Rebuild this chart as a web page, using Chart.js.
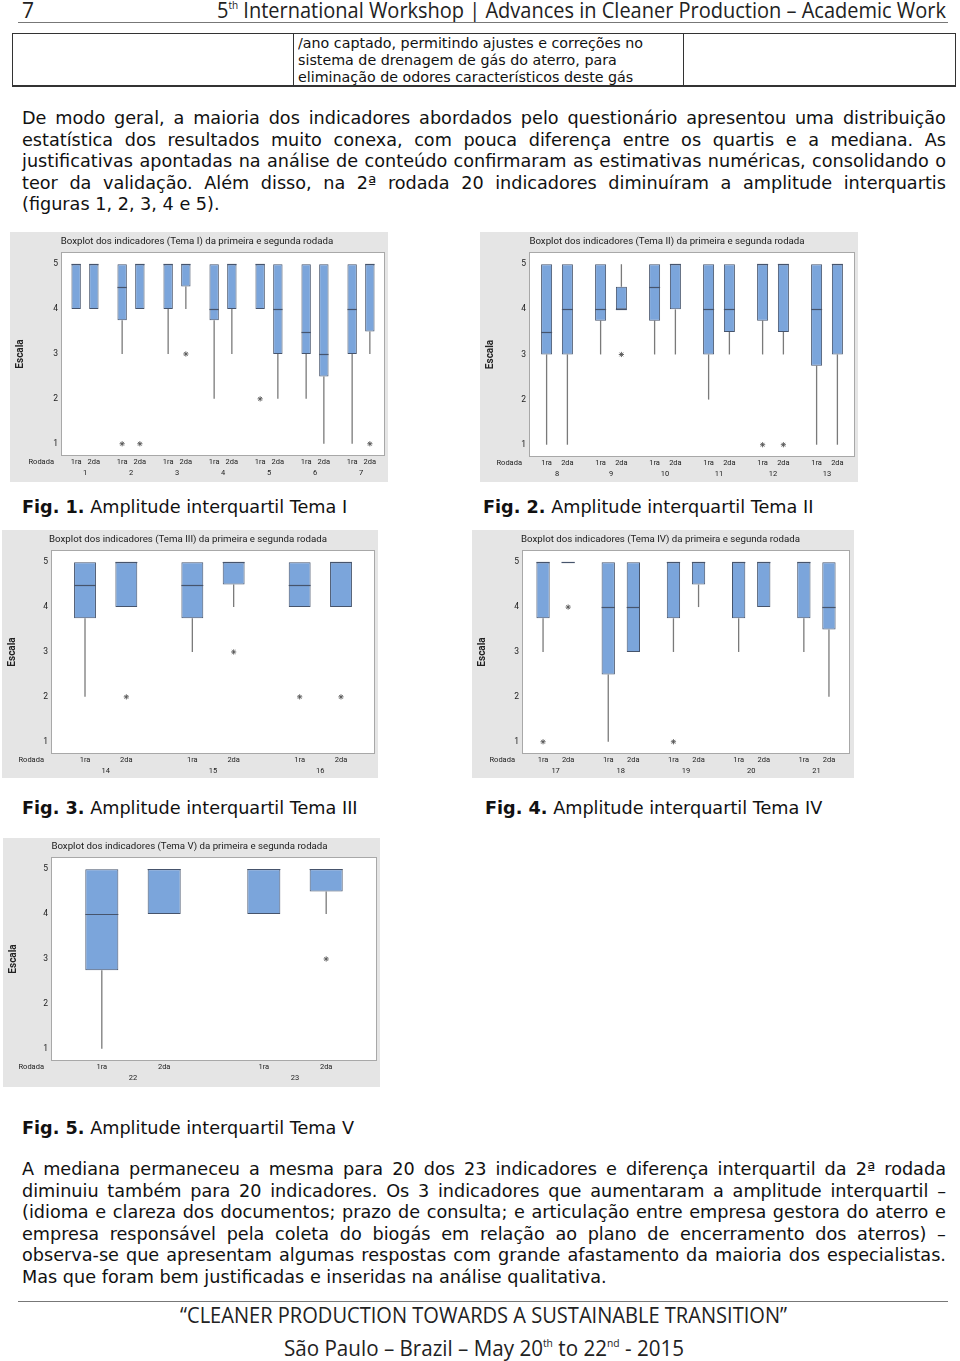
<!DOCTYPE html>
<html><head><meta charset="utf-8">
<script src="https://cdn.jsdelivr.net/npm/chart.js@4.4.1/dist/chart.umd.min.js"></script>
<style>
html,body{margin:0;padding:0;background:#fff;}
body{width:960px;height:1361px;position:relative;overflow:hidden;font-family:'DejaVu Sans',Verdana,sans-serif;color:#111;}
.hdr{position:absolute;font-family:'Open Sans',sans-serif;font-size:21px;line-height:21px;white-space:nowrap;transform-origin:left top;color:#222;}
.sup{font-size:0.5em;position:relative;top:-0.9em;}
.jl{position:absolute;left:22px;width:924px;display:flex;justify-content:space-between;white-space:nowrap;font-size:17px;height:21.5px;line-height:21.5px;}
.pl{position:absolute;white-space:nowrap;font-size:17px;line-height:21.5px;}
.tl{position:absolute;left:298px;font-family:'DejaVu Sans Condensed','DejaVu Sans',sans-serif;font-size:14px;line-height:17px;white-space:nowrap;transform-origin:left top;}
.rule{position:absolute;background:#333;}
canvas{position:absolute;}
</style></head>
<body>
<div class="hdr" id="h7" style="left:22px;top:0">7</div>
<div class="hdr" id="htitle" style="top:0">5<span class="sup">th</span> International Workshop | Advances in Cleaner Production – Academic Work</div>
<div class="rule" style="left:18px;top:22px;width:930px;height:1px;background:#777"></div>

<div class="rule" style="left:12px;top:33px;width:944px;height:1px"></div>
<div class="rule" style="left:12px;top:85px;width:944px;height:2px"></div>
<div class="rule" style="left:12px;top:33px;width:1px;height:53px"></div>
<div class="rule" style="left:293px;top:33px;width:1px;height:53px"></div>
<div class="rule" style="left:683px;top:33px;width:1px;height:53px"></div>
<div class="rule" style="left:955px;top:33px;width:1px;height:53px"></div>

<canvas id="c1" width="378" height="250" style="left:10px;top:232px"></canvas>
<canvas id="c2" width="378" height="250" style="left:480px;top:232px"></canvas>
<canvas id="c3" width="376" height="248" style="left:2px;top:530px"></canvas>
<canvas id="c4" width="382" height="248" style="left:472px;top:530px"></canvas>
<canvas id="c5" width="377" height="249" style="left:3px;top:838px"></canvas>

<div class="pl cap" style="left:22px;top:496.5px"><b>Fig. 1.</b> Amplitude interquartil Tema I</div>
<div class="pl cap" style="left:483px;top:496.5px"><b>Fig. 2.</b> Amplitude interquartil Tema II</div>
<div class="pl cap" style="left:22px;top:797.5px"><b>Fig. 3.</b> Amplitude interquartil Tema III</div>
<div class="pl cap" style="left:485px;top:797.5px"><b>Fig. 4.</b> Amplitude interquartil Tema IV</div>
<div class="pl cap" style="left:22px;top:1117.5px"><b>Fig. 5.</b> Amplitude interquartil Tema V</div>

<div class="rule" style="left:18px;top:1301px;width:930px;height:1px;background:#777"></div>
<div class="hdr" id="f1" style="top:1305px">“CLEANER PRODUCTION TOWARDS A SUSTAINABLE TRANSITION”</div>
<div class="hdr" id="f2" style="top:1338px">São Paulo – Brazil – May 20<span class="sup">th</span> to 22<span class="sup">nd</span> - 2015</div>

<script>
// ---------- data ----------
const yTicks = [1, 2, 3, 4, 5];
const rounds = ['1ra', '2da'];
// each entry: [lower whisker, Q1, median, Q3, upper whisker]
const temaI_ind = ['1','2','3','4','5','6','7'];
const temaI_1ra = [[4,4,5,5,5],[3,3.75,4.5,5,5],[3,4,5,5,5],[2,3.75,4,5,5],[4,4,5,5,5],[2,3,3.5,5,5],[1,3,4,5,5]];
const temaI_2da = [[4,4,5,5,5],[4,4,5,5,5],[4,4.5,5,5,5],[3,4,5,5,5],[2,3,4,5,5],[1,2.5,3,5,5],[3,3.5,5,5,5]];
const temaI_out1ra = [[],[1],[],[],[2],[],[]];
const temaI_out2da = [[],[1],[3],[],[],[],[1]];

const temaII_ind = ['8','9','10','11','12','13'];
const temaII_1ra = [[1,3,3.5,5,5],[3,3.75,4,5,5],[3,3.75,4.5,5,5],[2,3,4,5,5],[3,3.75,5,5,5],[1,2.75,4,5,5]];
const temaII_2da = [[1,3,4,5,5],[4,4,4,4.5,5],[3,4,5,5,5],[3,3.5,4,5,5],[3,3.5,5,5,5],[1,3,5,5,5]];
const temaII_out1ra = [[],[],[],[],[1],[]];
const temaII_out2da = [[],[3],[],[],[1],[]];

const temaIII_ind = ['14','15','16'];
const temaIII_1ra = [[2,3.75,4.5,5,5],[3,3.75,4.5,5,5],[4,4,4.5,5,5]];
const temaIII_2da = [[4,4,5,5,5],[4,4.5,5,5,5],[4,4,5,5,5]];
const temaIII_out1ra = [[],[],[2]];
const temaIII_out2da = [[2],[3],[2]];

const temaIV_ind = ['17','18','19','20','21'];
const temaIV_1ra = [[3,3.75,5,5,5],[1,2.5,4,5,5],[3,3.75,5,5,5],[3,3.75,5,5,5],[3,3.75,5,5,5]];
const temaIV_2da = [[5,5,5,5,5],[3,3,4,5,5],[4,4.5,5,5,5],[4,4,5,5,5],[2,3.5,4,5,5]];
const temaIV_out1ra = [[1],[],[1],[],[]];
const temaIV_out2da = [[4],[],[],[],[]];

const temaV_ind = ['22','23'];
const temaV_1ra = [[1,2.75,4,5,5],[4,4,5,5,5]];
const temaV_2da = [[4,4,5,5,5],[4,4.5,5,5,5]];
const temaV_out1ra = [[],[]];
const temaV_out2da = [[],[3]];

// ---------- text ----------
const tableLines = ['/ano captado, permitindo ajustes e correções no','sistema de drenagem de gás do aterro, para','eliminação de odores característicos deste gás'];
const para1 = [
 'De modo geral, a maioria dos indicadores abordados pelo questionário apresentou uma distribuição',
 'estatística dos resultados muito conexa, com pouca diferença entre os quartis e a mediana. As',
 'justificativas apontadas na análise de conteúdo confirmaram as estimativas numéricas, consolidando o',
 'teor da validação. Além disso, na 2ª rodada 20 indicadores diminuíram a amplitude interquartis',
 '(figuras 1, 2, 3, 4 e 5).'];
const para2 = [
 'A mediana permaneceu a mesma para 20 dos 23 indicadores e diferença interquartil da 2ª rodada',
 'diminuiu também para 20 indicadores. Os 3 indicadores que aumentaram a amplitude interquartil –',
 '(idioma e clareza dos documentos; prazo de consulta; e articulação entre empresa gestora do aterro e',
 'empresa responsável pela coleta do biogás em relação ao plano de encerramento dos aterros) –',
 'observa-se que apresentam algumas respostas com grande afastamento da maioria dos especialistas.',
 'Mas que foram bem justificadas e inseridas na análise qualitativa.'];

// choose a body font size that keeps the longest justified line inside the text block
const mctx = document.createElement('canvas').getContext('2d');
mctx.font = '17px "DejaVu Sans"';
let maxW = 0;
[para1.slice(0, -1), para2.slice(0, -1)].flat().forEach(l => { maxW = Math.max(maxW, mctx.measureText(l).width); });
const bodySize = Math.min(17.7, 17 * 916 / maxW);
document.querySelectorAll('.cap').forEach(e => e.style.fontSize = bodySize + 'px');

function fit(el, left, width) {
  el.style.transform = 'none';
  const w = el.getBoundingClientRect().width;
  el.style.left = left + 'px';
  el.style.transform = 'scaleX(' + (width / w) + ')';
}
function addPara(lines, top, lastFree) {
  lines.forEach((ln, i) => {
    const div = document.createElement('div');
    const last = lastFree && i === lines.length - 1;
    div.className = last ? 'pl' : 'jl';
    div.style.fontSize = bodySize + 'px';
    div.style.top = (top + i * 21.5) + 'px';
    if (last) { div.style.left = '22px'; div.textContent = ln; }
    else ln.split(' ').forEach(w => { const s = document.createElement('span'); s.textContent = w; div.appendChild(s); });
    document.body.appendChild(div);
  });
}
addPara(para1, 108.2, true);
addPara(para2, 1159.2, true);
tableLines.forEach((t, i) => {
  const d = document.createElement('div'); d.className = 'tl'; d.textContent = t;
  d.style.top = (35 + i * 17) + 'px'; document.body.appendChild(d);
});
(function(){
  const tl = document.querySelectorAll('.tl');
  const w0 = tl[0].getBoundingClientRect().width;
  const k = 345 / w0;
  tl.forEach(e => e.style.transform = 'scaleX(' + k + ')');
})();
fit(document.getElementById('htitle'), 217, 729);
fit(document.getElementById('f1'), 180, 607);
fit(document.getElementById('f2'), 284, 400);

// ---------- charts ----------
const BOX_FILL = '#7ba5db', BOX_LINE = '#46546c', WHISK = '#7a7a7a', OUTL = '#555';
const boxPlugin = {
  id: 'boxplot',
  beforeDraw(chart) {
    const {ctx, chartArea: a, width, height} = chart;
    ctx.save();
    ctx.fillStyle = '#e5e5e5'; ctx.fillRect(0, 0, width, height);
    ctx.fillStyle = '#ffffff'; ctx.fillRect(a.left, a.top, a.right - a.left, a.bottom - a.top);
    ctx.strokeStyle = '#a8a8a8'; ctx.lineWidth = 1;
    ctx.strokeRect(Math.round(a.left) - 0.5, Math.round(a.top) - 0.5, Math.round(a.right - a.left) + 1, Math.round(a.bottom - a.top) + 1);
    ctx.restore();
  },
  beforeDatasetsDraw(chart) {
    const {ctx} = chart, y = chart.scales.y;
    ctx.save(); ctx.strokeStyle = WHISK; ctx.lineWidth = 1.3;
    chart.data.datasets.forEach((ds, d) => {
      chart.getDatasetMeta(d).data.forEach((el, i) => {
        const s = ds.stats[i];
        ctx.beginPath();
        if (s[0] < s[1]) { ctx.moveTo(el.x, y.getPixelForValue(s[1])); ctx.lineTo(el.x, y.getPixelForValue(s[0])); }
        if (s[4] > s[3]) { ctx.moveTo(el.x, y.getPixelForValue(s[3])); ctx.lineTo(el.x, y.getPixelForValue(s[4])); }
        ctx.stroke();
      });
    });
    ctx.restore();
  },
  afterDatasetsDraw(chart) {
    const {ctx, chartArea: a} = chart, y = chart.scales.y;
    ctx.save();
    chart.data.datasets.forEach((ds, d) => {
      chart.getDatasetMeta(d).data.forEach((el, i) => {
        const s = ds.stats[i];
        const py = Math.round(y.getPixelForValue(s[2])) + 0.5;
        ctx.strokeStyle = BOX_LINE; ctx.lineWidth = 1.2;
        ctx.beginPath(); ctx.moveTo(el.x - el.width / 2, py); ctx.lineTo(el.x + el.width / 2, py); ctx.stroke();
        ctx.strokeStyle = OUTL; ctx.lineWidth = 0.9;
        ds.outliers[i].forEach(v => {
          const oy = y.getPixelForValue(v), r = 2.6;
          ctx.beginPath();
          for (let k = 0; k < 4; k++) {
            const ang = k * Math.PI / 4;
            ctx.moveTo(el.x - r * Math.cos(ang), oy - r * Math.sin(ang));
            ctx.lineTo(el.x + r * Math.cos(ang), oy + r * Math.sin(ang));
          }
          ctx.stroke();
        });
        ctx.fillStyle = '#222'; ctx.font = '7.5px Roboto'; ctx.textAlign = 'center'; ctx.textBaseline = 'middle';
        ctx.fillText(ds.label, el.x, a.bottom + 7);
      });
    });
    ctx.textAlign = 'right'; ctx.fillText('Rodada', a.left - 8, a.bottom + 7);
    ctx.restore();
  }
};

function boxChart(id, tema, cats, d1, d2, o1, o2, g) {
  const style = {backgroundColor: BOX_FILL, borderColor: BOX_LINE, borderWidth: 1, borderSkipped: false,
                 categoryPercentage: 0.77, barPercentage: 0.53};
  return new Chart(document.getElementById(id), {
    type: 'bar',
    data: {labels: cats, datasets: [
      Object.assign({label: rounds[0], data: d1.map(s => [s[1], s[3]]), stats: d1, outliers: o1}, style),
      Object.assign({label: rounds[1], data: d2.map(s => [s[1], s[3]]), stats: d2, outliers: o2}, style)
    ]},
    options: {
      responsive: false, animation: false, devicePixelRatio: 1,
      layout: {padding: {left: 0, right: g.r, top: 0, bottom: 0}},
      plugins: {
        legend: {display: false}, tooltip: {enabled: false},
        title: {display: true, text: 'Boxplot dos indicadores (' + tema + ') da primeira e segunda rodada',
                font: {family: 'Roboto', size: 9.7, weight: 'normal'}, color: '#1a1a1a', padding: {top: g.tt, bottom: 6}}
      },
      scales: {
        x: {type: 'category', offset: true, grid: {display: false, drawTicks: false}, border: {display: false},
            ticks: {padding: 14, font: {family: 'Roboto', size: 7.5}, color: '#222', maxRotation: 0, autoSkip: false},
            afterFit: s => { s.height = g.xh; }},
        y: {min: 0.75, max: 5.25, grid: {display: false, drawTicks: false}, border: {display: false},
            afterBuildTicks: ax => { ax.ticks = yTicks.map(v => ({value: v})); },
            ticks: {padding: 4, font: {family: 'Roboto', size: 8.5}, color: '#222'},
            title: {display: true, text: 'Escala', font: {family: 'Roboto', size: 10, weight: 'bold'}, color: '#222', padding: {top: 4, bottom: 0}},
            afterFit: s => { s.width = g.yw; }}
      }
    },
    plugins: [boxPlugin]
  });
}
boxChart('c1', 'Tema I', temaI_ind, temaI_1ra, temaI_2da, temaI_out1ra, temaI_out2da, {yw: 52, xh: 27, r: 4, tt: 3.3});
boxChart('c2', 'Tema II', temaII_ind, temaII_1ra, temaII_2da, temaII_out1ra, temaII_out2da, {yw: 50, xh: 26, r: 4, tt: 3.3});
boxChart('c3', 'Tema III', temaIII_ind, temaIII_1ra, temaIII_2da, temaIII_out1ra, temaIII_out2da, {yw: 50, xh: 25, r: 4, tt: 3.3});
boxChart('c4', 'Tema IV', temaIV_ind, temaIV_1ra, temaIV_2da, temaIV_out1ra, temaIV_out2da, {yw: 51, xh: 25, r: 5, tt: 3.3});
boxChart('c5', 'Tema V', temaV_ind, temaV_1ra, temaV_2da, temaV_out1ra, temaV_out2da, {yw: 49, xh: 27, r: 4, tt: 2.3});
</script>
</body></html>
